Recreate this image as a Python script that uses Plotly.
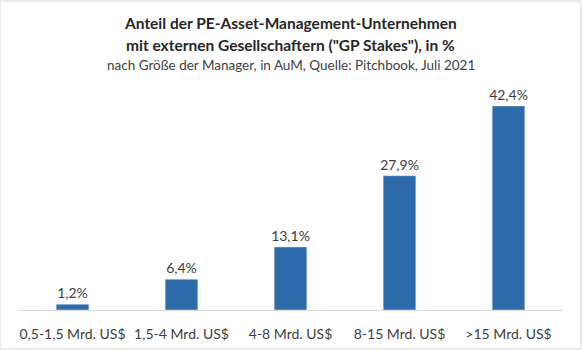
import plotly.graph_objects as go

categories = ["0,5-1,5 Mrd. US$", "1,5-4 Mrd. US$", "4-8 Mrd. US$", "8-15 Mrd. US$", ">15 Mrd. US$"]
values = [1.2, 6.4, 13.1, 27.9, 42.4]
labels = ["1,2%", "6,4%", "13,1%", "27,9%", "42,4%"]

FONT = "Lato"
fig = go.Figure(go.Bar(
    x=categories, y=values, text=labels, textposition="outside",
    textfont=dict(family=FONT, size=14, color="#404040"),
    marker=dict(color="#2E6BAA"), width=0.3, cliponaxis=False,
    constraintext="none",
))

fig.update_layout(
    width=582, height=350,
    margin=dict(l=18, r=19, t=90, b=40),
    paper_bgcolor="white", plot_bgcolor="white",
    showlegend=False,
    annotations=[
        dict(text="<b>Anteil der PE-Asset-Management-Unternehmen</b>", x=0.5, y=23, xref="paper", yref="paper",
             showarrow=False, font=dict(family=FONT, size=15.5, color="#262626")),
        dict(text="<b>mit externen Gesellschaftern (\"GP Stakes\"), in %</b>", x=0.5, y=45, xref="paper", yref="paper",
             showarrow=False, font=dict(family=FONT, size=15.5, color="#262626")),
        dict(text="nach Größe der Manager, in AuM, Quelle: Pitchbook, Juli 2021", x=0.5, y=65, xref="paper", yref="paper",
             showarrow=False, font=dict(family=FONT, size=13.5, color="#404040")),
    ],
    shapes=[dict(type="rect", xref="paper", yref="paper", x0=0, x1=1, y0=0, y1=1,
                 line=dict(color="#D9D9D9", width=1))],
)
plot_h = 350 - 90 - 40
for a in fig.layout.annotations:
    a.y = 1 + (90 - a.y) / plot_h
    a.yanchor = "middle"

fig.layout.shapes[0].update(x0=-18/545, x1=1 + 18/545, y0=-40/plot_h + 1/plot_h, y1=1 + 89/plot_h)

fig.update_xaxes(showgrid=False, showline=True, linecolor="#D9D9D9", linewidth=1,
                 tickfont=dict(family=FONT, size=14, color="#404040"), ticks="outside",
                 ticklen=11, tickcolor="rgba(0,0,0,0)", automargin=False)
fig.update_yaxes(visible=False, range=[0, 45.7])

fig.write_html("out.html")
